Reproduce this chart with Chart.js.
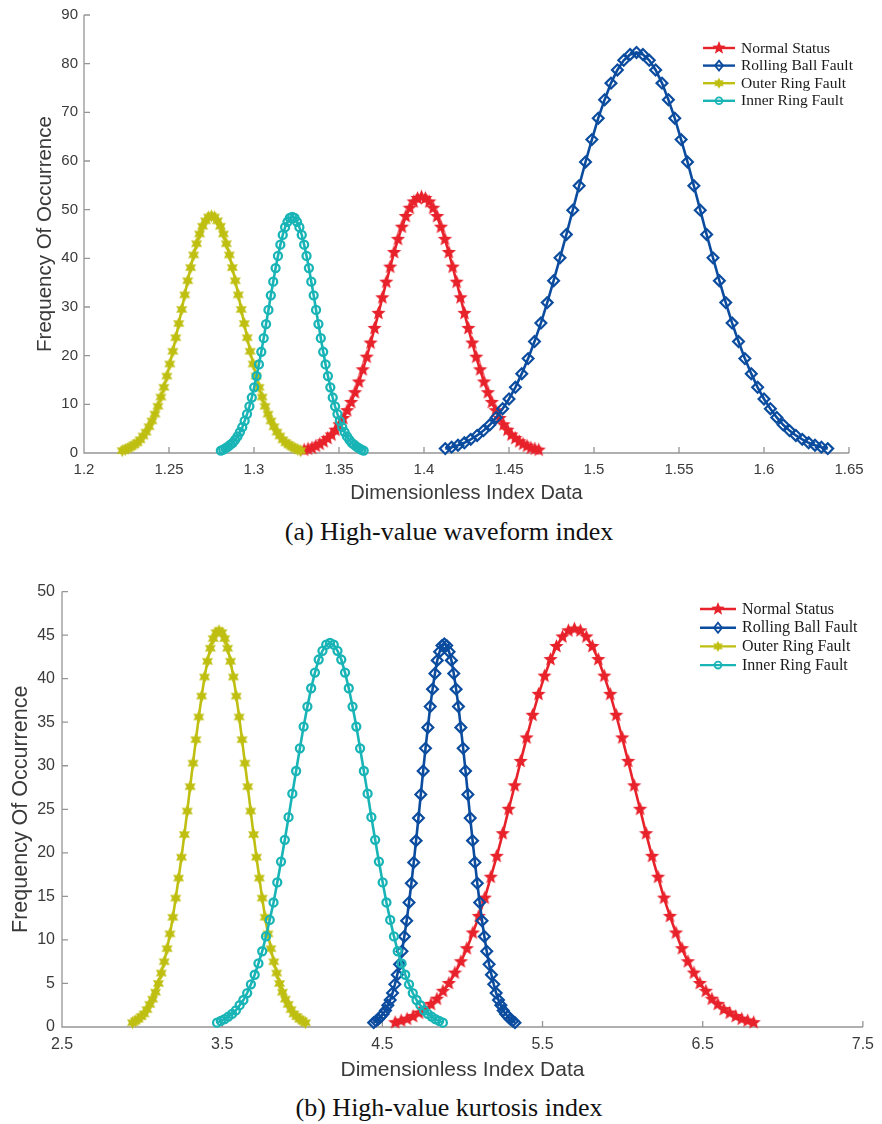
<!DOCTYPE html>
<html><head><meta charset="utf-8">
<script src="https://cdn.jsdelivr.net/npm/chart.js@4.4.1/dist/chart.umd.min.js"></script>
<style>
html,body{margin:0;padding:0;background:#fff;}
#page{position:relative;width:882px;height:1124px;overflow:hidden;background:#fff;}
canvas{position:absolute;left:0;}
.cap{position:absolute;left:0;width:898px;text-align:center;font-family:'Liberation Serif','Times New Roman',serif;font-size:26px;color:#111;line-height:30px;white-space:nowrap;}
</style></head><body>
<div id="page">
<canvas id="c1" width="882" height="505" style="top:0px"></canvas>
<div class="cap" style="top:517px">(a) High-value waveform index</div>
<canvas id="c2" width="882" height="508" style="top:575px"></canvas>
<div class="cap" style="top:1093px">(b) High-value kurtosis index</div>
</div>
<script>
// ---------- data ----------
const seriesNames = ['Normal Status', 'Rolling Ball Fault', 'Outer Ring Fault', 'Inner Ring Fault'];
const xTitle = 'Dimensionless Index Data';
const yTitle = 'Frequency Of Occurrence';

// (a) High-value waveform index
const aXTicks = [1.2, 1.25, 1.3, 1.35, 1.4, 1.45, 1.5, 1.55, 1.6, 1.65];
const aYTicks = [0, 10, 20, 30, 40, 50, 60, 70, 80, 90];
const aNormalX = [1.3295,1.3318,1.3341,1.3364,1.3387,1.341,1.3433,1.3456,1.3479,1.3502,1.3525,1.3548,1.3571,1.3594,1.3617,1.364,1.3663,1.3686,1.3709,1.3732,1.3755,1.3778,1.3801,1.3824,1.3847,1.387,1.3893,1.3916,1.3939,1.3962,1.3985,1.4008,1.4031,1.4054,1.4077,1.41,1.4123,1.4146,1.4169,1.4192,1.4215,1.4238,1.4261,1.4284,1.4307,1.433,1.4353,1.4376,1.4399,1.4422,1.4445,1.4468,1.4491,1.4514,1.4537,1.456,1.4583,1.4606,1.4629,1.4652,1.4675];
const aNormalY = [0.6,0.8,1.0,1.4,1.8,2.3,3.0,3.7,4.7,5.8,7.1,8.7,10.4,12.4,14.6,17.1,19.7,22.6,25.6,28.7,31.9,35.1,38.2,41.2,43.9,46.4,48.6,50.3,51.6,52.3,52.6,52.3,51.6,50.3,48.6,46.4,43.9,41.2,38.2,35.1,31.9,28.7,25.6,22.6,19.7,17.1,14.6,12.4,10.4,8.7,7.1,5.8,4.7,3.7,3.0,2.3,1.8,1.4,1.0,0.8,0.6];
const aRollingX = [1.4125,1.41625,1.42,1.42375,1.4275,1.43125,1.435,1.43875,1.4425,1.44625,1.45,1.45375,1.4575,1.46125,1.465,1.46875,1.4725,1.47625,1.48,1.48375,1.4875,1.49125,1.495,1.49875,1.5025,1.50625,1.51,1.51375,1.5175,1.52125,1.525,1.52875,1.5325,1.53625,1.54,1.54375,1.5475,1.55125,1.555,1.55875,1.5625,1.56625,1.57,1.57375,1.5775,1.58125,1.585,1.58875,1.5925,1.59625,1.6,1.60375,1.6075,1.61125,1.615,1.61875,1.6225,1.62625,1.63,1.63375,1.6375];
const aRollingY = [0.9,1.2,1.6,2.1,2.8,3.6,4.6,5.8,7.3,9.1,11.1,13.5,16.3,19.4,22.9,26.7,30.9,35.4,40.1,44.9,49.9,54.9,59.8,64.4,68.8,72.6,76.0,78.7,80.7,81.9,82.3,81.9,80.7,78.7,76.0,72.6,68.8,64.4,59.8,54.9,49.9,44.9,40.1,35.4,30.9,26.7,22.9,19.4,16.3,13.5,11.1,9.1,7.3,5.8,4.6,3.6,2.8,2.1,1.6,1.2,0.9];
const aOuterX = [1.2225,1.22425,1.226,1.22775,1.2295,1.23125,1.233,1.23475,1.2365,1.23825,1.24,1.24175,1.2435,1.24525,1.247,1.24875,1.2505,1.25225,1.254,1.25575,1.2575,1.25925,1.261,1.26275,1.2645,1.26625,1.268,1.26975,1.2715,1.27325,1.275,1.27675,1.2785,1.28025,1.282,1.28375,1.2855,1.28725,1.289,1.29075,1.2925,1.29425,1.296,1.29775,1.2995,1.30125,1.303,1.30475,1.3065,1.30825,1.31,1.31175,1.3135,1.31525,1.317,1.31875,1.3205,1.32225,1.324,1.32575,1.3275];
const aOuterY = [0.5,0.7,1.0,1.3,1.7,2.1,2.7,3.5,4.3,5.4,6.6,8.0,9.6,11.5,13.5,15.8,18.3,20.9,23.7,26.6,29.5,32.5,35.4,38.1,40.7,43.0,45.0,46.6,47.7,48.5,48.7,48.5,47.7,46.6,45.0,43.0,40.7,38.1,35.4,32.5,29.5,26.6,23.7,20.9,18.3,15.8,13.5,11.5,9.6,8.0,6.6,5.4,4.3,3.5,2.7,2.1,1.7,1.3,1.0,0.7,0.5];
const aInnerX = [1.2805,1.2819,1.2833,1.2847,1.2861,1.2875,1.2889,1.2903,1.2917,1.2931,1.2945,1.2959,1.2973,1.2987,1.3001,1.3015,1.3029,1.3043,1.3057,1.3071,1.3085,1.3099,1.3113,1.3127,1.3141,1.3155,1.3169,1.3183,1.3197,1.3211,1.3225,1.3239,1.3253,1.3267,1.3281,1.3295,1.3309,1.3323,1.3337,1.3351,1.3365,1.3379,1.3393,1.3407,1.3421,1.3435,1.3449,1.3463,1.3477,1.3491,1.3505,1.3519,1.3533,1.3547,1.3561,1.3575,1.3589,1.3603,1.3617,1.3631,1.3645];
const aInnerY = [0.5,0.7,1.0,1.3,1.7,2.1,2.7,3.4,4.3,5.3,6.6,8.0,9.6,11.4,13.5,15.8,18.2,20.8,23.6,26.5,29.4,32.4,35.2,38.0,40.5,42.8,44.8,46.4,47.5,48.3,48.5,48.3,47.5,46.4,44.8,42.8,40.5,38.0,35.2,32.4,29.4,26.5,23.6,20.8,18.2,15.8,13.5,11.4,9.6,8.0,6.6,5.3,4.3,3.4,2.7,2.1,1.7,1.3,1.0,0.7,0.5];

// (b) High-value kurtosis index
const bXTicks = [2.5, 3.5, 4.5, 5.5, 6.5, 7.5];
const bYTicks = [0, 5, 10, 15, 20, 25, 30, 35, 40, 45, 50];
const bNormalX = [4.58,4.6173,4.6546,4.6919,4.7292,4.7665,4.8038,4.8411,4.8784,4.9157,4.953,4.9903,5.0276,5.0649,5.1022,5.1395,5.1768,5.2141,5.2514,5.2887,5.326,5.3633,5.4006,5.4379,5.4752,5.5125,5.5498,5.5871,5.6244,5.6617,5.699,5.7363,5.7736,5.8109,5.8482,5.8855,5.9228,5.9601,5.9974,6.0347,6.072,6.1093,6.1466,6.1839,6.2212,6.2585,6.2958,6.3331,6.3704,6.4077,6.445,6.4823,6.5196,6.5569,6.5942,6.6315,6.6688,6.7061,6.7434,6.7807,6.818];
const bNormalY = [0.5,0.7,0.9,1.2,1.6,2.0,2.6,3.2,4.1,5.0,6.2,7.5,9.0,10.8,12.7,14.8,17.2,19.6,22.2,25.0,27.7,30.5,33.2,35.8,38.2,40.3,42.2,43.7,44.8,45.5,45.7,45.5,44.8,43.7,42.2,40.3,38.2,35.8,33.2,30.5,27.7,25.0,22.2,19.6,17.2,14.8,12.7,10.8,9.0,7.5,6.2,5.0,4.1,3.2,2.6,2.0,1.6,1.2,0.9,0.7,0.5];
const bRollingX = [4.446,4.4607,4.4754,4.4901,4.5048,4.5195,4.5342,4.5489,4.5636,4.5783,4.593,4.6077,4.6224,4.6371,4.6518,4.6665,4.6812,4.6959,4.7106,4.7253,4.74,4.7547,4.7694,4.7841,4.7988,4.8135,4.8282,4.8429,4.8576,4.8723,4.887,4.9017,4.9164,4.9311,4.9458,4.9605,4.9752,4.9899,5.0046,5.0193,5.034,5.0487,5.0634,5.0781,5.0928,5.1075,5.1222,5.1369,5.1516,5.1663,5.181,5.1957,5.2104,5.2251,5.2398,5.2545,5.2692,5.2839,5.2986,5.3133,5.328];
const bRollingY = [0.5,0.7,0.9,1.2,1.5,1.9,2.5,3.1,3.9,4.9,6.0,7.2,8.7,10.4,12.2,14.3,16.5,18.9,21.4,24.0,26.7,29.4,32.0,34.4,36.8,38.8,40.6,42.1,43.1,43.8,44.0,43.8,43.1,42.1,40.6,38.8,36.8,34.4,32.0,29.4,26.7,24.0,21.4,18.9,16.5,14.3,12.2,10.4,8.7,7.2,6.0,4.9,3.9,3.1,2.5,1.9,1.5,1.2,0.9,0.7,0.5];
const bOuterX = [2.94,2.958,2.976,2.994,3.012,3.03,3.048,3.066,3.084,3.102,3.12,3.138,3.156,3.174,3.192,3.21,3.228,3.246,3.264,3.282,3.3,3.318,3.336,3.354,3.372,3.39,3.408,3.426,3.444,3.462,3.48,3.498,3.516,3.534,3.552,3.57,3.588,3.606,3.624,3.642,3.66,3.678,3.696,3.714,3.732,3.75,3.768,3.786,3.804,3.822,3.84,3.858,3.876,3.894,3.912,3.93,3.948,3.966,3.984,4.002,4.02];
const bOuterY = [0.5,0.7,0.9,1.2,1.5,2.0,2.6,3.2,4.0,5.0,6.2,7.5,9.0,10.7,12.6,14.8,17.1,19.5,22.1,24.8,27.6,30.3,33.0,35.6,38.0,40.2,42.0,43.5,44.6,45.3,45.5,45.3,44.6,43.5,42.0,40.2,38.0,35.6,33.0,30.3,27.6,24.8,22.1,19.5,17.1,14.8,12.6,10.7,9.0,7.5,6.2,5.0,4.0,3.2,2.6,2.0,1.5,1.2,0.9,0.7,0.5];
const bInnerX = [3.468,3.4915,3.515,3.5385,3.562,3.5855,3.609,3.6325,3.656,3.6795,3.703,3.7265,3.75,3.7735,3.797,3.8205,3.844,3.8675,3.891,3.9145,3.938,3.9615,3.985,4.0085,4.032,4.0555,4.079,4.1025,4.126,4.1495,4.173,4.1965,4.22,4.2435,4.267,4.2905,4.314,4.3375,4.361,4.3845,4.408,4.4315,4.455,4.4785,4.502,4.5255,4.549,4.5725,4.596,4.6195,4.643,4.6665,4.69,4.7135,4.737,4.7605,4.784,4.8075,4.831,4.8545,4.878];
const bInnerY = [0.5,0.7,0.9,1.2,1.5,1.9,2.5,3.1,3.9,4.9,6.0,7.3,8.7,10.4,12.3,14.3,16.6,19.0,21.5,24.1,26.8,29.4,32.0,34.5,36.8,38.9,40.7,42.2,43.2,43.9,44.1,43.9,43.2,42.2,40.7,38.9,36.8,34.5,32.0,29.4,26.8,24.1,21.5,19.0,16.6,14.3,12.3,10.4,8.7,7.3,6.0,4.9,3.9,3.1,2.5,1.9,1.5,1.2,0.9,0.7,0.5];

// ---------- styles ----------
const RED = '#e8222b', BLUE = '#0b4c9f', YELLOW = '#bfbf12', CYAN = '#19b4b6';
const AXIS_COLOR = '#959595', TEXT_COLOR = '#3a3a3a';
const SANS = "'Liberation Sans', Arial, Helvetica, sans-serif";
const SERIF = "'Liberation Serif', 'Times New Roman', serif";

function starImg(n, rOut, rIn, color) {
  const s = Math.ceil(rOut * 2 + 2);
  const c = document.createElement('canvas');
  c.width = s; c.height = s;
  const g = c.getContext('2d');
  g.fillStyle = color;
  g.beginPath();
  for (let k = 0; k < 2 * n; k++) {
    const r = k % 2 === 0 ? rOut : rIn;
    const ang = -Math.PI / 2 + k * Math.PI / n;
    const px = s / 2 + r * Math.cos(ang), py = s / 2 + r * Math.sin(ang);
    if (k === 0) g.moveTo(px, py); else g.lineTo(px, py);
  }
  g.closePath();
  g.fill();
  return c;
}
const pentagram = starImg(5, 7.5, 3.3, RED);
const hexagram = starImg(6, 6.4, 3.6, YELLOW);
const pentagramLegend = starImg(5, 7, 3.0, RED);
const hexagramLegend = starImg(6, 5.6, 3.1, YELLOW);

function ds(label, xs, ys, color, style, order, extra) {
  return Object.assign({
    label,
    data: xs.map((v, i) => ({ x: v, y: ys[i] })),
    borderColor: color,
    backgroundColor: color,
    borderWidth: 2.6,
    pointStyle: style,
    pointRadius: 5,
    pointBorderColor: color,
    pointBackgroundColor: color,
    pointBorderWidth: 1,
    order,
    clip: false,
    tension: 0,
    fill: false
  }, extra || {});
}

const matlabPlugin = {
  id: 'matlab',
  beforeDatasetsDraw(chart) {
    const { ctx, chartArea: a, scales: { x, y } } = chart;
    ctx.save();
    ctx.strokeStyle = AXIS_COLOR;
    ctx.lineWidth = 1.3;
    ctx.beginPath();
    ctx.moveTo(a.left, a.top);
    ctx.lineTo(a.left, a.bottom);
    ctx.lineTo(a.right, a.bottom);
    y.ticks.forEach(t => {
      const py = y.getPixelForValue(t.value);
      ctx.moveTo(a.left, py); ctx.lineTo(a.left + 6, py);
    });
    x.ticks.forEach(t => {
      const px = x.getPixelForValue(t.value);
      ctx.moveTo(px, a.bottom); ctx.lineTo(px, a.bottom - 6);
    });
    ctx.stroke();
    ctx.restore();
  },
  afterDatasetsDraw(chart, args, opts) {
    const ctx = chart.ctx;
    ctx.save();
    chart.data.datasets.forEach((d, i) => {
      const y = opts.y0 + i * opts.dy;
      const x0 = opts.x;
      ctx.strokeStyle = d.borderColor;
      ctx.lineWidth = 2.4;
      ctx.beginPath();
      ctx.moveTo(x0, y); ctx.lineTo(x0 + opts.len, y);
      ctx.stroke();
      const cx = x0 + opts.len / 2;
      const st = d.legendMarker || d.pointStyle;
      if (st instanceof HTMLCanvasElement) {
        ctx.drawImage(st, cx - st.width / 2, y - st.height / 2);
      } else if (st === 'rectRot') {
        ctx.lineWidth = 1.8;
        ctx.beginPath();
        ctx.moveTo(cx, y - 5); ctx.lineTo(cx + 4, y); ctx.lineTo(cx, y + 5); ctx.lineTo(cx - 4, y); ctx.closePath();
        ctx.stroke();
      } else {
        ctx.lineWidth = 1.8;
        ctx.beginPath();
        ctx.arc(cx, y, 3.4, 0, Math.PI * 2);
        ctx.stroke();
      }
      ctx.fillStyle = '#1a1a1a';
      ctx.font = opts.fontSize + 'px ' + SERIF;
      ctx.textBaseline = 'middle';
      ctx.textAlign = 'left';
      ctx.fillText(d.label, x0 + opts.len + 6, y + 0.5);
    });
    ctx.restore();
  }
};

function makeChart(id, cfg) {
  return new Chart(document.getElementById(id), {
    type: 'line',
    data: { datasets: cfg.datasets },
    plugins: [matlabPlugin],
    options: {
      responsive: false,
      animation: false,
      events: [],
      layout: { padding: cfg.padding },
      plugins: {
        legend: { display: false },
        tooltip: { enabled: false },
        matlab: cfg.legend
      },
      scales: {
        x: {
          type: 'linear',
          min: cfg.xTicks[0],
          max: cfg.xTicks[cfg.xTicks.length - 1],
          afterBuildTicks: s => { s.ticks = cfg.xTicks.map(v => ({ value: v })); },
          afterFit: s => { s.height = cfg.xHeight; },
          grid: { display: false, drawTicks: false, tickLength: 0 },
          border: { display: false },
          ticks: { padding: 8, color: TEXT_COLOR, font: { family: SANS, size: cfg.tickSize }, maxRotation: 0, autoSkip: false, callback: v => String(v) },
          title: { display: true, text: xTitle, color: TEXT_COLOR, font: { family: SANS, size: cfg.titleSize }, padding: 0 }
        },
        y: {
          type: 'linear',
          min: cfg.yTicks[0],
          max: cfg.yTicks[cfg.yTicks.length - 1],
          afterBuildTicks: s => { s.ticks = cfg.yTicks.map(v => ({ value: v })); },
          afterFit: s => { s.width = cfg.yWidth; },
          grid: { display: false, drawTicks: false, tickLength: 0 },
          border: { display: false },
          ticks: { padding: cfg.yPad, color: TEXT_COLOR, font: { family: SANS, size: cfg.tickSize }, autoSkip: false, callback: v => String(v) },
          title: { display: true, text: yTitle, color: TEXT_COLOR, font: { family: SANS, size: cfg.ytitleSize }, padding: { top: cfg.yTitlePad, bottom: 0 } }
        }
      }
    }
  });
}

const diamondOpts = { pointRadius: 5.4, pointBackgroundColor: 'rgba(0,0,0,0)', pointBorderWidth: 2.2 };
const circleOpts = { pointRadius: 4.0, pointBackgroundColor: 'rgba(0,0,0,0)', pointBorderWidth: 2.3 };

makeChart('c1', {
  datasets: [
    ds(seriesNames[0], aNormalX, aNormalY, RED, pentagram, 4, { legendMarker: pentagramLegend }),
    ds(seriesNames[1], aRollingX, aRollingY, BLUE, 'rectRot', 3, diamondOpts),
    ds(seriesNames[2], aOuterX, aOuterY, YELLOW, hexagram, 2, { legendMarker: hexagramLegend }),
    ds(seriesNames[3], aInnerX, aInnerY, CYAN, 'circle', 1, circleOpts)
  ],
  padding: { top: 14, right: 33, bottom: 0, left: 0 },
  xTicks: aXTicks, yTicks: aYTicks,
  xHeight: 52, yWidth: 84, yPad: 6, yTitlePad: 33,
  tickSize: 15, titleSize: 20, ytitleSize: 20.5,
  legend: { x: 703, y0: 48, dy: 17.6, len: 32, fontSize: 15.5 }
});

makeChart('c2', {
  datasets: [
    ds(seriesNames[0], bNormalX, bNormalY, RED, pentagram, 4, { legendMarker: pentagramLegend }),
    ds(seriesNames[1], bRollingX, bRollingY, BLUE, 'rectRot', 3, diamondOpts),
    ds(seriesNames[2], bOuterX, bOuterY, YELLOW, hexagram, 2, { legendMarker: hexagramLegend }),
    ds(seriesNames[3], bInnerX, bInnerY, CYAN, 'circle', 1, circleOpts)
  ],
  padding: { top: 14, right: 12, bottom: 0, left: 0 },
  xTicks: bXTicks, yTicks: bYTicks,
  xHeight: 56, yWidth: 62, yPad: 7, yTitlePad: 8,
  tickSize: 16, titleSize: 21, ytitleSize: 21.5,
  legend: { x: 700, y0: 34, dy: 18.7, len: 36, fontSize: 16 }
});
</script>
</body></html>
